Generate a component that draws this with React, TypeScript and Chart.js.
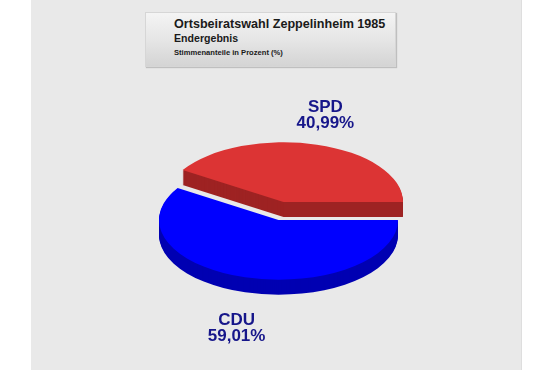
import React, { useEffect, useRef } from 'react';
import { Chart, registerables } from 'chart.js';

Chart.register(...registerables);

// ---- data ----
const parties = ['SPD', 'CDU'];
const shares = [40.99, 59.01];
const titleLines = ['Ortsbeiratswahl Zeppelinheim 1985', 'Endergebnis', 'Stimmenanteile in Prozent (%)'];

// ---- styles ----
const topColors = ['#dc3434', '#0000ff'];
const sideColors = ['#9e2323', '#0000b2'];
const explodeX = [5, 0];
const explodeY = [-18, 0];
const DEPTH = 15;
const TILT = 0.5;
const LABEL_RX = 150;
const LABEL_RY = 101.5;
const LABEL_SHIFT = 9.75;
const LABEL_FONT = '700 17px "Liberation Sans", Arial, sans-serif';
const LABEL_COLOR = '#16168a';
const FONT = '"Liberation Sans", Arial, sans-serif';

const fmt = (v: number) => v.toFixed(2).replace('.', ',') + '%';

const pie3d = {
  id: 'pie3d',
  beforeDatasetDraw(chart: any, args: any) {
    const ctx = chart.ctx;
    const arcs = args.meta.data;
    arcs.forEach((arc: any, i: number) => {
      const draw = (dy: number, color: string) => {
        const fake = Object.create(arc);
        fake.options = Object.assign({}, arc.options, { backgroundColor: color, borderWidth: 0 });
        ctx.save();
        ctx.translate(arc.x + explodeX[i], arc.y + explodeY[i] + dy);
        ctx.scale(1, TILT);
        ctx.translate(-arc.x, -arc.y);
        arc.draw.call(fake, ctx);
        ctx.restore();
      };
      for (let d = DEPTH; d >= 1; d--) draw(d, sideColors[i]);
      draw(0, topColors[i]);
    });
    return false;
  },
  afterDatasetsDraw(chart: any) {
    const ctx = chart.ctx;
    const meta = chart.getDatasetMeta(0);
    ctx.save();
    ctx.font = LABEL_FONT;
    ctx.fillStyle = LABEL_COLOR;
    ctx.textAlign = 'center';
    ctx.textBaseline = 'alphabetic';
    meta.data.forEach((arc: any, i: number) => {
      const mid = (arc.startAngle + arc.endAngle) / 2;
      const cx = arc.x + explodeX[i] + Math.cos(mid) * LABEL_RX;
      const cy = arc.y + explodeY[i] + Math.sin(mid) * LABEL_RY + LABEL_SHIFT;
      ctx.fillText(parties[i], cx, cy - 2);
      ctx.fillText(fmt(shares[i]), cx, cy + 14);
    });
    ctx.restore();
  },
};

export default function App() {
  const ref = useRef<HTMLCanvasElement>(null);
  useEffect(() => {
    document.body.style.margin = '0';
    const total = shares.reduce((a, b) => a + b, 0);
    const chart = new Chart(ref.current as HTMLCanvasElement, {
      type: 'pie',
      data: {
        labels: parties,
        datasets: [{ data: shares, backgroundColor: topColors, borderWidth: 0 }],
      },
      options: {
        responsive: false,
        animation: false,
        events: [],
        rotation: 90 - (360 * shares[0]) / total,
        layout: { padding: { left: 159, right: 157, top: 100.5, bottom: 30.5 } },
        plugins: { legend: { display: false }, tooltip: { enabled: false }, title: { display: false } },
      },
      plugins: [pie3d],
    });
    return () => chart.destroy();
  }, []);

  const lineStyle = (size: number, top: number): React.CSSProperties => ({
    position: 'absolute',
    left: 28,
    top,
    fontFamily: FONT,
    fontWeight: 700,
    fontSize: size,
    lineHeight: `${size}px`,
    color: '#1a1a1a',
    whiteSpace: 'nowrap',
  });

  return (
    <div style={{ position: 'relative', width: 555, height: 370, background: '#ffffff', overflow: 'hidden' }}>
      <div
        style={{
          position: 'absolute',
          left: 31,
          top: 0,
          width: 490,
          height: 370,
          background: '#e9e9e9',
          borderRight: '1px solid #dedede',
        }}
      />
      <div
        style={{
          position: 'absolute',
          left: 145,
          top: 12,
          width: 249,
          height: 53,
          background: 'linear-gradient(to bottom, #f4f4f4 0%, #e6e6e6 50%, #d4d4d4 100%)',
          border: '1px solid #d6d6d6',
          boxShadow: '1px 1px 1px rgba(0,0,0,0.18)',
        }}
      >
        <div style={lineStyle(12.6, 18.3 - 13)}>{titleLines[0]}</div>
        <div style={lineStyle(10.6, 32.7 - 13)}>{titleLines[1]}</div>
        <div style={lineStyle(7.6, 49 - 13)}>{titleLines[2]}</div>
      </div>
      <canvas ref={ref} width={555} height={370} style={{ position: 'absolute', left: 0, top: 0, width: 555, height: 370 }} />
    </div>
  );
}
